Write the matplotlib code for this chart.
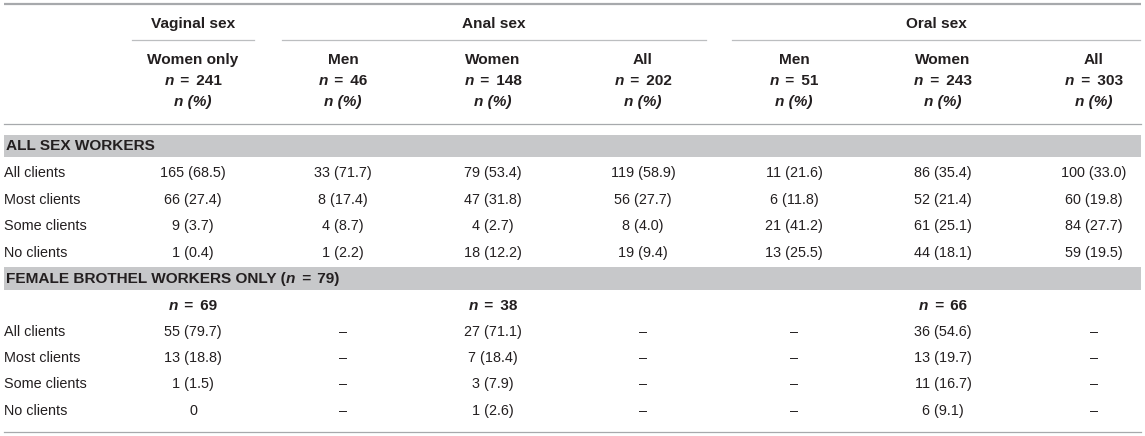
import matplotlib
matplotlib.use("Agg")
import matplotlib.pyplot as plt

# table content
groups = ["Vaginal sex", "Anal sex", "Oral sex"]
subgroups = ["Women only", "Men", "Women", "All", "Men", "Women", "All"]
sub_n = [241, 46, 148, 202, 51, 243, 303]
row_labels = ["All clients", "Most clients", "Some clients", "No clients"]

all_counts = [[165, 33, 79, 119, 11, 86, 100],
              [66, 8, 47, 56, 6, 52, 60],
              [9, 4, 4, 8, 21, 61, 84],
              [1, 1, 18, 19, 13, 44, 59]]
all_pct = [[68.5, 71.7, 53.4, 58.9, 21.6, 35.4, 33.0],
           [27.4, 17.4, 31.8, 27.7, 11.8, 21.4, 19.8],
           [3.7, 8.7, 2.7, 4.0, 41.2, 25.1, 27.7],
           [0.4, 2.2, 12.2, 9.4, 25.5, 18.1, 19.5]]

brothel_total = 79
brothel_n = [69, None, 38, None, None, 66, None]
brothel_counts = [[55, None, 27, None, None, 36, None],
                  [13, None, 7, None, None, 13, None],
                  [1, None, 3, None, None, 11, None],
                  [0, None, 1, None, None, 6, None]]
brothel_pct = [[79.7, None, 71.1, None, None, 54.6, None],
               [18.8, None, 18.4, None, None, 19.7, None],
               [1.5, None, 7.9, None, None, 16.7, None],
               [None, None, 2.6, None, None, 9.1, None]]

col_x = [193, 343, 493, 643, 794, 943, 1094]
group_span = [(132, 254), (282, 706), (732, 1140)]
FONT = "Liberation Sans"
FS = 10.4
FSB = 11.1
TXT = "#231f20"

fig = plt.figure(figsize=(11.45, 4.36), dpi=100)
ax = fig.add_axes([0, 0, 1, 1])
ax.set_xlim(0, 1145)
ax.set_ylim(436, 0)
ax.axis("off")
renderer = fig.canvas.get_renderer()


def pieces(x, y, parts, ha="center"):
    # parts: list of (text, style, gap before) drawn one after another
    arts = []
    for s, st, g in parts:
        t = ax.text(0, y, s, fontsize=FSB, family=FONT, color=TXT, va="center",
                    ha="left", fontweight="bold", fontstyle=st)
        arts.append(t)
    widths = [a.get_window_extent(renderer).width for a in arts]
    total = sum(widths) + sum(p[2] for p in parts)
    cur = x - total / 2 if ha == "center" else x
    for a, w, p in zip(arts, widths, parts):
        cur += p[2]
        a.set_x(cur)
        cur += w


def n_eq(v, close=""):
    return [("n", "italic", 0), (" =", "normal", 2.5), (" {}{}".format(v, close), "normal", 2.5)]


def fmt(c, p):
    if c is None:
        return "\u2013"
    if p is None:
        return str(c)
    return "{} ({:.1f})".format(c, p)


# rules
ax.plot([4, 1141], [4, 4], color="#a7a9ac", lw=1.6, solid_capstyle="butt")
for x0, x1 in group_span:
    ax.plot([x0, x1], [40, 40], color="#bcbec0", lw=0.9)
ax.plot([4, 1141], [124, 124], color="#a7a9ac", lw=0.9)
ax.plot([4, 1141], [432, 432], color="#a7a9ac", lw=0.9)

# group headers
for (x0, x1), g in zip(group_span, groups):
    ax.text((x0 + x1) / 2 if g != "Oral sex" else 936, 24, g, fontsize=FSB, family=FONT,
            color=TXT, ha="center", va="center", fontweight="bold")

for x, sg, n in zip(col_x, subgroups, sub_n):
    ax.text(x, 60, sg, fontsize=FSB, family=FONT, color=TXT, ha="center",
            va="center", fontweight="bold")
    pieces(x, 81, n_eq(n))
    pieces(x, 102, [("n (%)", "italic", 0)])

# section bands
ax.axhspan(135, 157, xmin=4 / 1145, xmax=1141 / 1145, color="#c7c8ca", lw=0)
ax.axhspan(267, 290, xmin=4 / 1145, xmax=1141 / 1145, color="#c7c8ca", lw=0)
ax.text(6, 146, "ALL SEX WORKERS", fontsize=FSB, family=FONT, color=TXT,
        ha="left", va="center", fontweight="bold")
pieces(6, 279, [("FEMALE BROTHEL WORKERS ONLY (", "normal", 0)] + n_eq(brothel_total, ")"),
       ha="left")

rows_all = [173, 200, 226, 253]
rows_br = [332, 358, 384, 411]

for i, lab in enumerate(row_labels):
    ax.text(4, rows_all[i], lab, fontsize=FS, family=FONT, color=TXT,
            ha="left", va="center")
    ax.text(4, rows_br[i], lab, fontsize=FS, family=FONT, color=TXT,
            ha="left", va="center")
    for j, x in enumerate(col_x):
        ax.text(x, rows_all[i], fmt(all_counts[i][j], all_pct[i][j]),
                fontsize=FS, family=FONT, color=TXT, ha="center", va="center")
        ax.text(x, rows_br[i], fmt(brothel_counts[i][j], brothel_pct[i][j]),
                fontsize=FS, family=FONT, color=TXT, ha="center", va="center")

for x, n in zip(col_x, brothel_n):
    if n is not None:
        pieces(x, 306, n_eq(n))

fig.savefig("out.png", dpi=100)
